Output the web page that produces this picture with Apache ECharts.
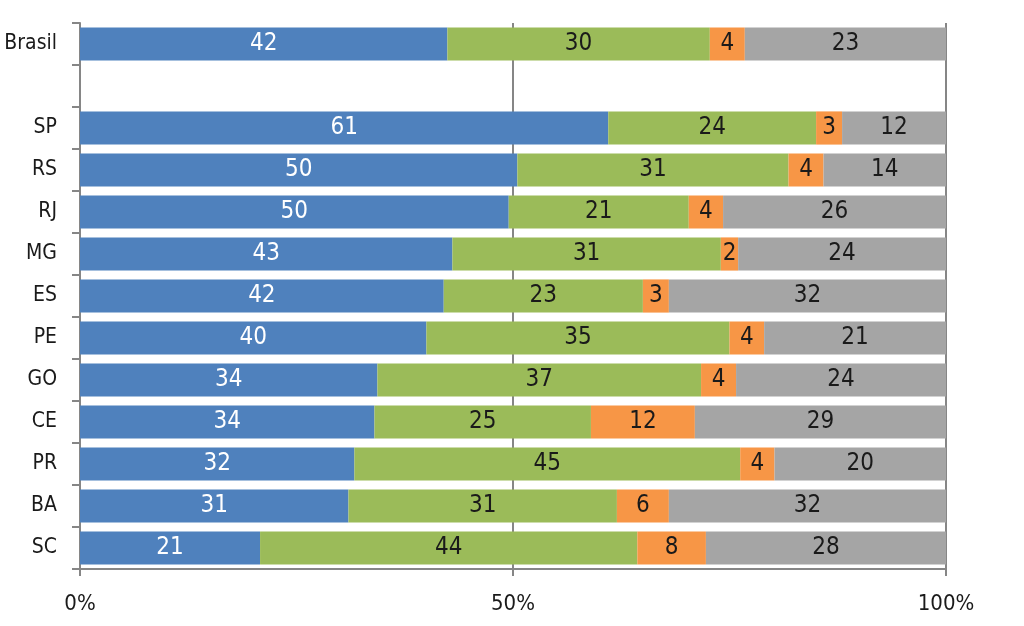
<!DOCTYPE html>
<html><head><meta charset="utf-8">
<script src="https://cdn.jsdelivr.net/npm/echarts@6/dist/echarts.min.js"></script>
<style>html,body{margin:0;padding:0;background:#fff}#c{width:1024px;height:626px}</style>
</head><body><div id="c"></div>
<script>
const categories = ['Brasil', '', 'SP', 'RS', 'RJ', 'MG', 'ES', 'PE', 'GO', 'CE', 'PR', 'BA', 'SC'];
const serieA = [42, null, 61, 50, 50, 43, 42, 40, 34, 34, 32, 31, 21];
const serieB = [30, null, 24, 31, 21, 31, 23, 35, 37, 25, 45, 31, 44];
const serieC = [4, null, 3, 4, 4, 2, 3, 4, 4, 12, 4, 6, 8];
const serieD = [23, null, 12, 14, 26, 24, 32, 21, 24, 29, 20, 32, 28];
const xTickLabels = ['0%', '50%', '100%'];

const raw = [serieA, serieB, serieC, serieD];
const colors = ['#4F81BD', '#9BBB59', '#F79646', '#A5A5A5'];
const labelColors = ['#ffffff', '#1a1a1a', '#1a1a1a', '#1a1a1a'];
const totals = categories.map((c, i) => raw.reduce((s, arr) => s + (arr[i] || 0), 0));
const FONT = '"Liberation Sans Narrow", "DejaVu Sans Condensed", sans-serif';

const series = raw.map((arr, k) => ({
  type: 'bar',
  stack: 'total',
  barCategoryGap: '21%',
  itemStyle: { color: colors[k] },
  data: arr.map((v, i) => v == null ? { value: null } : { value: v / totals[i] * 100, raw: v }),
  label: {
    show: true,
    position: 'inside',
    color: labelColors[k],
    fontFamily: FONT,
    fontSize: 24,
    formatter: p => p.data && p.data.raw != null ? String(p.data.raw) : ''
  },
  emphasis: { disabled: true }
}));

const chart = echarts.init(document.getElementById('c'), null, { renderer: 'canvas' });
chart.setOption({
  animation: false,
  grid: { left: 80, right: 78, top: 23, bottom: 57, containLabel: false, outerBoundsMode: 'none' },
  xAxis: {
    type: 'value', min: 0, max: 100, interval: 50,
    axisLine: { show: true, lineStyle: { color: '#868686', width: 2 } },
    axisTick: { show: true, length: 7, lineStyle: { color: '#868686', width: 2 } },
    splitLine: { show: true, lineStyle: { color: '#868686', width: 2 } },
    axisLabel: {
      margin: 24, color: '#1a1a1a', fontFamily: FONT, fontSize: 22,
      formatter: v => xTickLabels[Math.round(v / 50)]
    }
  },
  yAxis: {
    type: 'category', data: categories, inverse: true,
    axisLine: { show: true, lineStyle: { color: '#868686', width: 2 } },
    axisTick: { show: true, length: 8, lineStyle: { color: '#868686', width: 2 } },
    splitLine: { show: false },
    axisLabel: { margin: 23, color: '#1a1a1a', fontFamily: FONT, fontSize: 21 }
  },
  series: series
});
</script></body></html>
